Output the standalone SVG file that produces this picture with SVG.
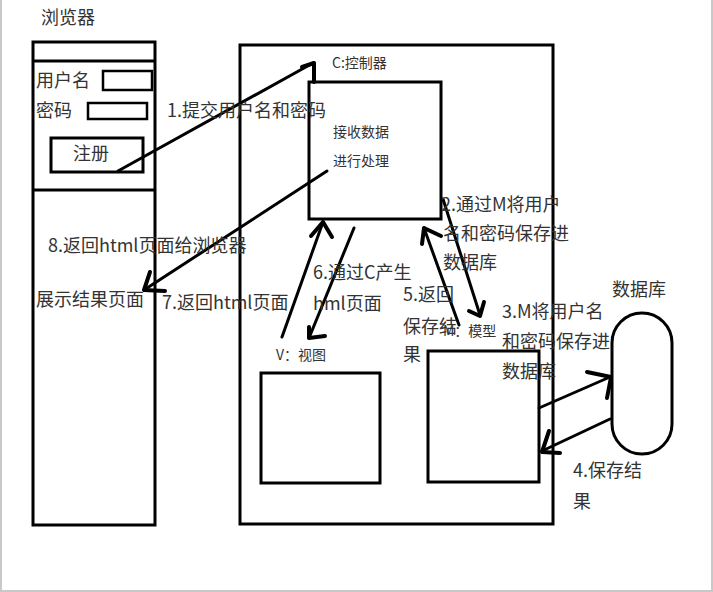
<svg xmlns="http://www.w3.org/2000/svg" width="713" height="592" viewBox="0 0 713 592">
<style>
.box{fill:none;stroke:#000;stroke-width:3}
.thin{fill:none;stroke:#000;stroke-width:2.5}
.t{font-family:"Noto Sans CJK SC","Noto Sans",sans-serif;font-size:18px;fill:#333}
.s{font-size:14px}
.ln{fill:none;stroke:#000;stroke-width:3;stroke-linecap:round}
.hd{fill:none;stroke:#000;stroke-width:4;stroke-linecap:round;stroke-linejoin:round}
</style>
<rect x="0" y="0" width="713" height="592" fill="#fff"/>
<path d="M1,0 V591 H712 V0" fill="none" stroke="#c8c8c8" stroke-width="2"/>

<g id="browser">
<text class="t" x="41" y="24">浏览器</text>
<rect class="box" x="33" y="42" width="122" height="483"/>
<line class="box" x1="33" y1="61" x2="155" y2="61"/>
<line class="box" x1="33" y1="190" x2="155" y2="190"/>
<text class="t" x="36" y="87">用户名</text>
<rect class="thin" x="103" y="71" width="49" height="19"/>
<text class="t" x="36" y="117">密码</text>
<rect class="thin" x="88" y="103" width="59" height="16"/>
<g id="register-btn">
<rect class="box" x="51" y="138" width="92" height="34"/>
<text class="t" x="73" y="160">注册</text>
</g>
<text class="t" x="36" y="306">展示结果页面</text>
</g>

<g id="mvc">
<rect class="box" x="240" y="45" width="313" height="479"/>
</g>

<g id="controller">
<text class="t s" x="332" y="68">C:控制器</text>
<rect class="box" x="309" y="82" width="132" height="137"/>
<text class="t s" x="333" y="137">接收数据</text>
<text class="t s" x="333" y="166">进行处理</text>
</g>

<g id="view">
<text class="t s" x="276" y="360">V：视图</text>
<rect class="box" x="261" y="373" width="119" height="110"/>
</g>

<g id="model">
<rect class="box" x="428" y="351" width="111" height="131"/>
</g>

<g id="database">
<text class="t" x="612" y="296">数据库</text>
<rect class="box" x="612" y="313" width="60" height="141" rx="30" ry="30"/>
</g>

<g id="connectors">
<line class="ln" x1="118" y1="171" x2="313" y2="63"/>
<polyline class="hd" points="302,67 314,63 314,82"/>

<line class="ln" x1="327" y1="171" x2="144" y2="290"/>
<polyline class="hd" points="150,272 144,290 165,291"/>

<line class="ln" x1="282" y1="337" x2="323" y2="222"/>
<polyline class="hd" points="311,236 323,222 332,237"/>

<line class="ln" x1="354" y1="228" x2="309" y2="338"/>
<polyline class="hd" points="309,327 309,338 325,336"/>

<line class="ln" x1="459" y1="325" x2="424" y2="228"/>
<polyline class="hd" points="422,244 424,228 441,236"/>

<line class="ln" x1="443" y1="199" x2="480" y2="315"/>
<polyline class="hd" points="469,311 480,316 484,302"/>

<line class="ln" x1="539" y1="408" x2="610" y2="377"/>
<polyline class="hd" points="587,372 611,377 607,398"/>

<line class="ln" x1="610" y1="419" x2="542" y2="451"/>
<polyline class="hd" points="549,431 542,452 560,453"/>
</g>

<g id="labels">
<text class="t" x="167" y="117">1.提交用户名和密码</text>
<text class="t" x="48" y="252">8.返回html页面给浏览器</text>
<text class="t" x="162" y="309">7.返回html页面</text>
<text class="t" x="313" y="279">6.通过C产生</text>
<text class="t" x="313" y="310">hml页面</text>
<text class="t" x="441" y="211">2.通过M将用户</text>
<text class="t" x="443" y="240">名和密码保存进</text>
<text class="t" x="443" y="269">数据库</text>
<text class="t" x="403" y="301">5.返回</text>
<text class="t" x="403" y="333">保存结</text>
<text class="t" x="403" y="361">果</text>
<text class="t s" x="443" y="336">M：模型</text>
<text class="t" x="502" y="318">3.M将用户名</text>
<text class="t" x="502" y="348">和密码保存进</text>
<text class="t" x="502" y="378">数据库</text>
<text class="t" x="573" y="477">4.保存结</text>
<text class="t" x="573" y="508">果</text>
</g>
</svg>
